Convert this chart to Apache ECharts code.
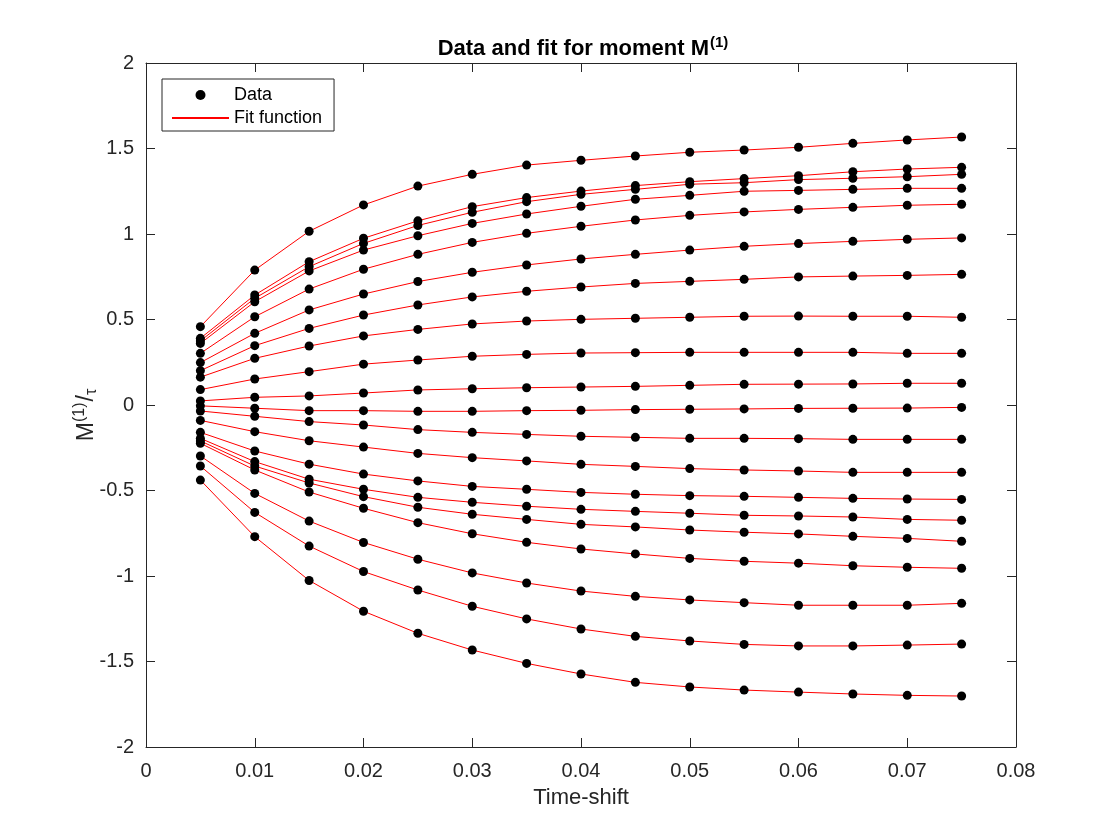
<!DOCTYPE html>
<html>
<head>
<meta charset="utf-8">
<script src="https://cdn.jsdelivr.net/npm/echarts@6/dist/echarts.min.js"></script>
<style>
html,body{margin:0;padding:0;background:#ffffff;}
#chart{width:1120px;height:840px;}
</style>
</head>
<body>
<div id="chart"></div>
<script>
// ---- data ----
const timeShift = [0.005, 0.010, 0.015, 0.020, 0.025, 0.030, 0.035, 0.040, 0.045, 0.050, 0.055, 0.060, 0.065, 0.070, 0.075];

const curve01 = [0.458, 0.789, 1.016, 1.170, 1.280, 1.349, 1.403, 1.431, 1.456, 1.478, 1.491, 1.507, 1.530, 1.550, 1.567];
const curve02 = [0.390, 0.643, 0.838, 0.975, 1.077, 1.160, 1.213, 1.251, 1.283, 1.306, 1.324, 1.341, 1.364, 1.380, 1.390];
const curve03 = [0.375, 0.624, 0.809, 0.945, 1.050, 1.127, 1.189, 1.232, 1.261, 1.291, 1.300, 1.318, 1.326, 1.335, 1.349];
const curve04 = [0.360, 0.604, 0.784, 0.906, 0.990, 1.062, 1.117, 1.162, 1.203, 1.226, 1.250, 1.255, 1.261, 1.267, 1.267];
const curve05 = [0.302, 0.516, 0.678, 0.794, 0.881, 0.951, 1.004, 1.045, 1.082, 1.109, 1.129, 1.144, 1.156, 1.168, 1.174];
const curve06 = [0.248, 0.419, 0.556, 0.649, 0.722, 0.776, 0.819, 0.854, 0.881, 0.906, 0.928, 0.944, 0.957, 0.969, 0.977];
const curve07 = [0.201, 0.347, 0.448, 0.526, 0.585, 0.632, 0.665, 0.690, 0.711, 0.723, 0.735, 0.749, 0.754, 0.758, 0.764];
const curve08 = [0.163, 0.273, 0.345, 0.404, 0.442, 0.474, 0.491, 0.501, 0.507, 0.513, 0.519, 0.520, 0.519, 0.519, 0.513];
const curve09 = [0.090, 0.152, 0.195, 0.239, 0.263, 0.285, 0.296, 0.304, 0.306, 0.308, 0.308, 0.308, 0.308, 0.302, 0.302];
const curve10 = [0.024, 0.045, 0.053, 0.070, 0.088, 0.095, 0.101, 0.105, 0.109, 0.115, 0.121, 0.122, 0.123, 0.127, 0.127];
const curve11 = [-0.005, -0.019, -0.033, -0.033, -0.037, -0.037, -0.033, -0.031, -0.027, -0.025, -0.023, -0.020, -0.019, -0.018, -0.014];
const curve12 = [-0.035, -0.066, -0.097, -0.117, -0.144, -0.160, -0.172, -0.183, -0.189, -0.195, -0.195, -0.197, -0.201, -0.201, -0.201];
const curve13 = [-0.090, -0.156, -0.209, -0.246, -0.283, -0.308, -0.327, -0.347, -0.359, -0.372, -0.380, -0.386, -0.394, -0.394, -0.394];
const curve14 = [-0.160, -0.269, -0.346, -0.404, -0.444, -0.476, -0.493, -0.511, -0.522, -0.530, -0.534, -0.540, -0.546, -0.550, -0.552];
const curve15 = [-0.195, -0.331, -0.434, -0.493, -0.540, -0.569, -0.592, -0.610, -0.622, -0.633, -0.645, -0.649, -0.655, -0.669, -0.674];
const curve16 = [-0.210, -0.357, -0.456, -0.536, -0.598, -0.639, -0.669, -0.698, -0.713, -0.731, -0.744, -0.754, -0.768, -0.780, -0.797];
const curve17 = [-0.224, -0.380, -0.509, -0.604, -0.688, -0.753, -0.803, -0.842, -0.871, -0.897, -0.914, -0.925, -0.940, -0.949, -0.955];
const curve18 = [-0.298, -0.517, -0.679, -0.804, -0.902, -0.982, -1.041, -1.088, -1.119, -1.140, -1.156, -1.171, -1.171, -1.171, -1.160];
const curve19 = [-0.357, -0.628, -0.825, -0.974, -1.082, -1.177, -1.251, -1.310, -1.353, -1.380, -1.400, -1.409, -1.409, -1.404, -1.398];
const curve20 = [-0.439, -0.770, -1.026, -1.206, -1.335, -1.433, -1.511, -1.573, -1.622, -1.649, -1.667, -1.679, -1.690, -1.698, -1.702];

const curves = [curve01, curve02, curve03, curve04, curve05, curve06, curve07, curve08, curve09, curve10,
                curve11, curve12, curve13, curve14, curve15, curve16, curve17, curve18, curve19, curve20];

const legendNames = ['Data', 'Fit function'];
const xRange = [0, 0.08];
const xStep = 0.01;
const yRange = [-2, 2];
const yStep = 0.5;

// ---- chart ----
const FONT = '"Liberation Sans", Arial, Helvetica, sans-serif';
const AXC = '#262626';

function pairs(c) { return c.map((v, i) => [timeShift[i], v]); }

const fitSeries = curves.map(c => ({
  name: legendNames[1],
  type: 'line',
  data: pairs(c),
  symbol: 'none',
  showSymbol: false,
  smooth: false,
  lineStyle: { color: '#ff0000', width: 1 },
  itemStyle: { color: '#ff0000' },
  z: 2,
  silent: true
}));

const dataSeries = {
  name: legendNames[0],
  type: 'scatter',
  data: curves.flatMap(c => pairs(c)),
  symbol: 'circle',
  symbolSize: 9,
  itemStyle: { color: '#000000', opacity: 1 },
  z: 3,
  silent: true
};

function baseAxis(extra) {
  return Object.assign({
    type: 'value',
    axisLine: { show: true, onZero: false, lineStyle: { color: AXC, width: 1 } },
    axisTick: { show: true, inside: true, length: 9, lineStyle: { color: AXC, width: 1 } },
    splitLine: { show: false },
    axisLabel: { show: false }
  }, extra);
}

const option = {
  animation: false,
  backgroundColor: '#ffffff',
  textStyle: { fontFamily: FONT },
  title: {
    text: '{b|Data and fit for moment M}{sup|(1)}',
    left: 578,
    top: 30,
    textAlign: 'center',
    textStyle: {
      fontFamily: FONT,
      rich: {
        b: { fontFamily: FONT, fontSize: 22, fontWeight: 'bold', color: '#000', verticalAlign: 'middle' },
        sup: { fontFamily: FONT, fontSize: 15, fontWeight: 'bold', color: '#000', verticalAlign: 'middle', padding: [0, 0, 12, 1] }
      }
    }
  },
  legend: {
    data: [
      { name: legendNames[0], icon: 'circle' },
      { name: legendNames[1], itemStyle: { opacity: 0 } }
    ],
    orient: 'vertical',
    left: 162,
    top: 79,
    padding: [7, 12, 4, 9],
    itemGap: 5,
    itemWidth: 57,
    itemHeight: 10,
    borderColor: AXC,
    borderWidth: 1,
    borderRadius: 0,
    backgroundColor: '#ffffff',
    selectedMode: false,
    textStyle: { fontFamily: FONT, fontSize: 18, color: '#000' }
  },
  grid: { left: 146, right: 104, top: 63, bottom: 93, containLabel: false },
  xAxis: [
    baseAxis({
      position: 'bottom',
      min: xRange[0], max: xRange[1], interval: xStep,
      name: 'Time-shift',
      nameLocation: 'middle',
      nameGap: 40,
      nameTextStyle: { fontFamily: FONT, fontSize: 22, color: AXC },
      axisLabel: { show: true, fontFamily: FONT, fontSize: 20, color: AXC, margin: 14 }
    }),
    baseAxis({ position: 'top', min: xRange[0], max: xRange[1], interval: xStep })
  ],
  yAxis: [
    baseAxis({
      position: 'left',
      min: yRange[0], max: yRange[1], interval: yStep,
      name: '{m|M}{sup|(1)}{m|/}{sub|τ}',
      nameLocation: 'middle',
      nameGap: 45,
      nameMoveOverlap: false,
      nameTextStyle: {
        fontFamily: FONT, color: AXC,
        rich: {
          m: { fontFamily: FONT, fontSize: 23, color: AXC, verticalAlign: 'middle' },
          sup: { fontFamily: FONT, fontSize: 16, color: AXC, verticalAlign: 'middle', padding: [0, 1, 13, 0] },
          sub: { fontFamily: FONT, fontSize: 16, color: AXC, verticalAlign: 'middle', padding: [10, 20, 0, 0] }
        }
      },
      axisLabel: { show: true, fontFamily: FONT, fontSize: 20, color: AXC, margin: 12 }
    }),
    baseAxis({ position: 'right', min: yRange[0], max: yRange[1], interval: yStep })
  ],
  series: fitSeries.concat([dataSeries])
};

const chart = echarts.init(document.getElementById('chart'), null, { renderer: 'canvas' });
chart.setOption(option);
</script>
</body>
</html>
